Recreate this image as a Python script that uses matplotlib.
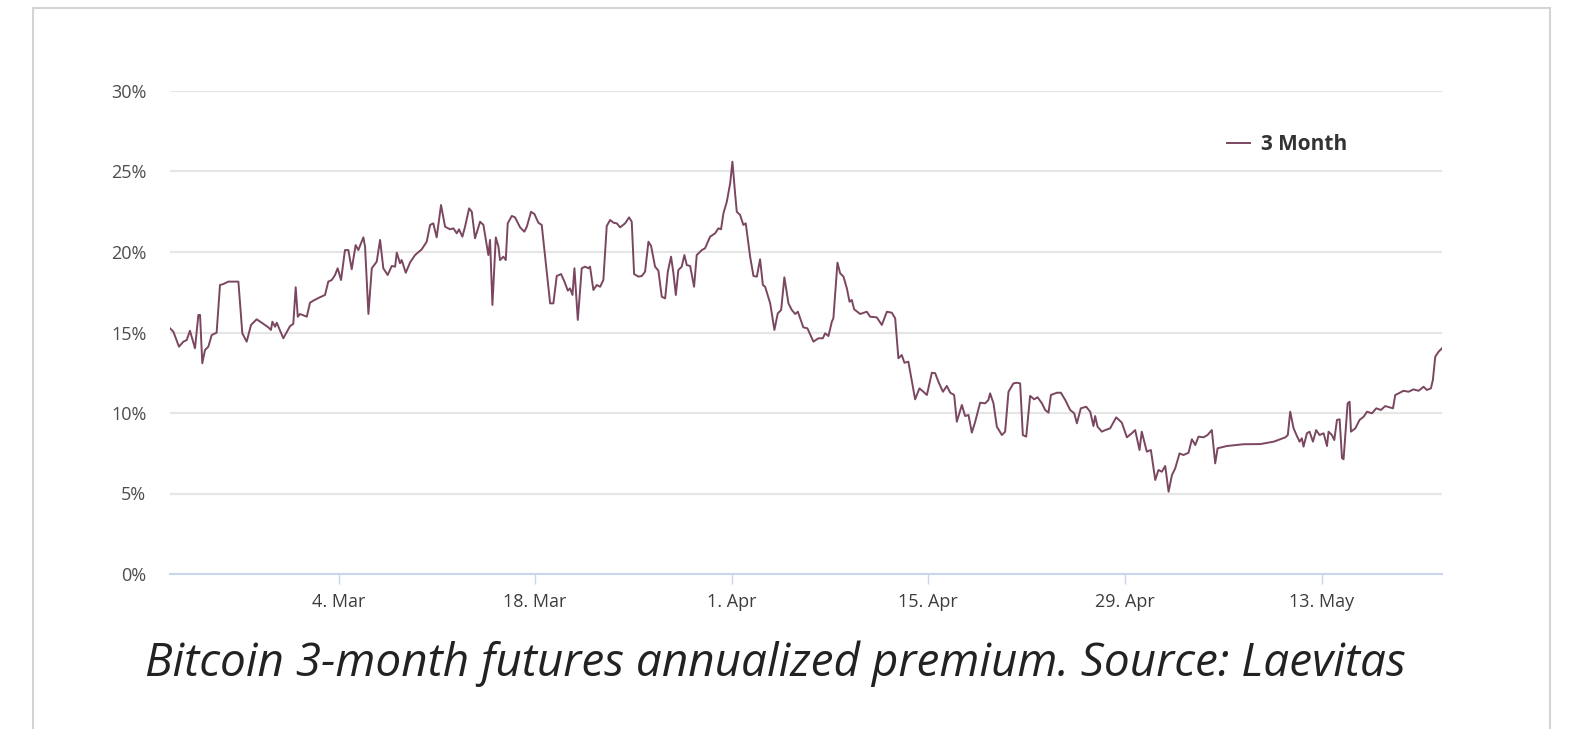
import pandas as pd
import matplotlib
matplotlib.use('Agg')
import matplotlib.pyplot as plt
from matplotlib.patches import Rectangle

plt.rcParams['font.family'] = ['Open Sans', 'DejaVu Sans']

# series: days since start date, 3-month annualized premium in %
start = pd.Timestamp('2021-02-20')
days = [0, 0.24, 0.64, 0.95, 1.19, 1.42, 1.54, 1.78, 2.02, 2.14, 2.30, 2.49, 2.73, 2.97, 3.32,
        3.56, 3.80, 4.15, 4.87, 5.15, 5.46, 5.77, 6.17, 6.53, 7.0, 7.19, 7.29, 7.48, 7.6, 8.07,
        8.55, 8.78, 8.95, 9.1, 9.26, 9.74, 9.97, 10.21, 10.68, 11.04, 11.27, 11.52, 11.75, 11.94,
        12.18, 12.46, 12.7, 12.94, 13.22, 13.41, 13.77, 13.89, 14.13, 14.37, 14.72, 14.96, 15.19,
        15.5, 15.79, 16.03, 16.15, 16.38, 16.5, 16.79, 17.09, 17.45, 17.93, 18.28, 18.52, 18.75,
        18.99, 19.3, 19.59, 19.94, 20.18, 20.42, 20.58, 20.82, 21.01, 21.3, 21.49, 21.72, 22.08,
        22.32, 22.67, 22.79, 22.96, 23.2, 23.39, 23.5, 23.74, 23.91, 24.05, 24.34, 24.57, 24.93,
        25.23, 25.41, 25.71, 25.95, 26.23, 26.47, 27.07, 27.3, 27.54, 27.85, 28.09, 28.33, 28.49,
        28.66, 28.8, 29.04, 29.32, 29.56, 29.79, 29.91, 30.15, 30.39, 30.63, 30.86, 31.1, 31.34,
        31.58, 31.82, 32.05, 32.41, 32.69, 32.88, 33.05, 33.36, 33.6, 33.83, 34.07, 34.26, 34.54,
        34.78, 35.02, 35.26, 35.45, 35.68, 35.85, 36.02, 36.2, 36.44, 36.63, 36.8, 37.04, 37.32,
        37.51, 37.87, 38.1, 38.46, 38.82, 39.05, 39.24, 39.41, 39.65, 39.89, 40.05, 40.24, 40.36,
        40.6, 40.83, 41.0, 41.31, 41.55, 41.79, 42.02, 42.22, 42.38, 42.74, 43.04, 43.28, 43.52,
        43.75, 44.04, 44.28, 44.52, 44.71, 45.1, 45.39, 45.82, 46.17, 46.49, 46.65, 46.89, 47.13,
        47.24, 47.53, 47.72, 47.96, 48.2, 48.39, 48.55, 48.72, 49.15, 49.62, 49.86, 50.33, 50.69,
        51.05, 51.4, 51.64, 51.87, 52.11, 52.3, 52.58, 53.06, 53.37, 53.65, 53.9, 54.25, 54.49,
        54.72, 55.04, 55.32, 55.56, 55.84, 56.03, 56.39, 56.62, 56.86, 57.1, 57.34, 57.69, 58.05,
        58.28, 58.4, 58.64, 58.88, 59.24, 59.47, 59.71, 60.06, 60.3, 60.54, 60.73, 60.97, 61.25,
        61.54, 61.78, 62.09, 62.32, 62.56, 62.73, 63.16, 63.44, 63.75, 64.1, 64.39, 64.58, 64.86,
        65.24, 65.53, 65.76, 65.88, 66.05, 66.36, 66.6, 66.95, 67.38, 67.78, 68.14, 68.49, 68.73,
        69.04, 69.2, 69.56, 69.85, 70.16, 70.39, 70.63, 70.87, 71.11, 71.35, 71.58, 71.89, 72.17,
        72.53, 72.77, 73.01, 73.24, 73.6, 73.88, 74.19, 74.43, 74.6, 75.26, 76.45, 77.64, 78.6,
        79.43, 79.6, 79.77, 80.01, 80.25, 80.44, 80.6, 80.72, 80.96, 81.15, 81.39, 81.62, 81.86,
        82.15, 82.39, 82.5, 82.74, 82.91, 83.1, 83.29, 83.46, 83.57, 83.86, 84.0, 84.1, 84.41,
        84.71, 85.0, 85.24, 85.59, 85.9, 86.23, 86.54, 86.85, 87.09, 87.25, 87.49, 87.84, 88.2,
        88.55, 88.91, 89.27, 89.5, 89.79, 89.93, 90.1, 90.34, 90.58]
premium = [15.26, 15.05, 14.12, 14.43, 14.53, 15.11, 14.74, 14.02, 16.09, 16.09, 13.09, 13.91, 14.12,
           14.84, 14.99, 17.95, 18.01, 18.16, 18.16, 14.95, 14.43, 15.47, 15.82, 15.61, 15.32, 15.16,
           15.67, 15.36, 15.61, 14.64, 15.4, 15.53, 17.81, 15.98, 16.15, 15.98, 16.85, 16.98, 17.19,
           17.33, 18.16, 18.26, 18.57, 18.99, 18.26, 20.12, 20.12, 18.93, 20.43, 20.12, 20.91, 20.33,
           16.15, 18.99, 19.4, 20.75, 18.99, 18.57, 19.13, 19.09, 19.96, 19.3, 19.5, 18.71, 19.34,
           19.81, 20.17, 20.64, 21.68, 21.78, 20.91, 22.92, 21.57, 21.41, 21.47, 21.16, 21.41, 20.95,
           21.57, 22.71, 22.5, 20.85, 21.88, 21.68, 19.81, 20.75, 16.71, 20.91, 20.33, 19.5, 19.71,
           19.5, 21.78, 22.24, 22.15, 21.53, 21.26, 21.57, 22.5, 22.36, 21.82, 21.68, 16.81, 16.81,
           18.51, 18.63, 18.16, 17.6, 17.74, 17.33, 18.99, 15.78, 18.99, 19.09, 18.99, 19.09, 17.64,
           17.95, 17.84, 18.26, 21.61, 21.99, 21.82, 21.78, 21.53, 21.78, 22.15, 21.88, 18.63, 18.47,
           18.51, 18.78, 20.64, 20.37, 19.09, 18.84, 17.22, 17.12, 18.78, 19.71, 18.68, 17.33, 18.88,
           19.09, 19.81, 19.19, 19.13, 17.84, 19.81, 20.12, 20.23, 20.95, 21.16, 21.47, 21.41, 22.4,
           23.12, 24.27, 25.61, 23.65, 22.5, 22.3, 21.68, 21.78, 19.71, 18.51, 18.47, 19.55, 17.95,
           17.84, 16.81, 15.16, 16.19, 16.4, 18.43, 16.81, 16.4, 16.15, 16.29, 15.32, 15.26, 14.43,
           14.64, 14.64, 14.95, 14.78, 15.67, 15.88, 19.34, 18.68, 18.47, 17.74, 16.91, 17.02, 16.44,
           16.15, 16.29, 15.98, 15.94, 15.47, 16.29, 16.23, 15.88, 13.4, 13.6, 13.12, 13.19, 10.85,
           11.53, 11.32, 11.12, 12.5, 12.47, 11.94, 11.32, 11.68, 11.26, 11.12, 9.46, 10.5, 9.81,
           9.88, 8.78, 9.46, 10.64, 10.6, 10.81, 11.22, 10.6, 9.15, 8.63, 8.84, 11.32, 11.84, 11.88,
           11.84, 8.63, 8.53, 11.06, 10.85, 10.98, 10.6, 10.19, 10.02, 11.12, 11.26, 11.26, 10.81,
           10.19, 9.98, 9.36, 10.29, 10.39, 10.08, 9.19, 9.81, 9.15, 8.84, 8.94, 9.05, 9.73, 9.4,
           8.49, 8.74, 8.94, 7.7, 8.84, 7.6, 7.7, 5.84, 6.46, 6.35, 6.71, 5.11, 6.15, 6.56, 7.49,
           7.39, 7.53, 8.37, 8.01, 8.53, 8.49, 8.63, 8.94, 6.87, 7.81, 7.95, 8.06, 8.07, 8.22, 8.49,
           8.63, 10.08, 9.05, 8.57, 8.22, 8.43, 7.91, 8.74, 8.84, 8.22, 8.94, 8.63, 8.74, 7.95, 8.84,
           8.63, 8.32, 9.57, 9.61, 7.19, 7.13, 10.6, 10.7, 8.84, 9.05, 9.57, 9.77, 10.08, 9.98, 10.29,
           10.19, 10.43, 10.35, 10.29, 11.12, 11.22, 11.38, 11.32, 11.47, 11.38, 11.63, 11.43, 11.53,
           12.05, 13.5, 13.81, 14.02]

tick_dates = ['2021-03-04', '2021-03-18', '2021-04-01', '2021-04-15', '2021-04-29', '2021-05-13']
tick_labels = ['4. Mar', '18. Mar', '1. Apr', '15. Apr', '29. Apr', '13. May']
y_ticks = [0, 5, 10, 15, 20, 25, 30]
caption = 'Bitcoin 3-month futures annualized premium. Source: Laevitas'

W, H = 1583, 729
fig = plt.figure(figsize=(W / 100, H / 100), dpi=100)
ax = fig.add_axes([170 / W, 1 - 574 / H, (1442 - 170) / W, (574 - 91) / H])

x = start + pd.to_timedelta(days, unit='D')
ax.plot(x, premium, color='#7a4660', lw=1.4, label='3 Month')
ax.set_xlim(x[0], x[-1])
ax.set_ylim(0, 30)

ax.set_yticks(y_ticks)
ax.set_yticklabels([f'{v}%' for v in y_ticks])
ax.set_xticks(pd.to_datetime(tick_dates))
ax.set_xticklabels(tick_labels)

ax.yaxis.grid(True, color='#e6e6e6', lw=1.6)
ax.set_axisbelow(True)
for s in ['top', 'left', 'right']:
    ax.spines[s].set_visible(False)
ax.spines['bottom'].set_color('#ccd6eb')
ax.spines['bottom'].set_linewidth(1.5)
ax.tick_params(axis='y', length=0, pad=17, labelsize=13, labelcolor='#4d4d4d')
ax.tick_params(axis='x', length=7, width=1, color='#ccd6eb', pad=7, labelsize=13,
               labelcolor='#3d3d3d')

leg = ax.legend(loc='center left', bbox_to_anchor=(1227 / W, 1 - 145 / H),
                bbox_transform=fig.transFigure, frameon=False, borderpad=0,
                borderaxespad=0, handlelength=1.1, handletextpad=0.55,
                prop={'weight': 'bold', 'size': 15})
for t in leg.get_texts():
    t.set_color('#333333')

# light frame around the chart, open at the bottom
fig.patches.append(Rectangle((33 / W, -0.05), (1550 - 33) / W, 1.05 - 8 / H,
                             transform=fig.transFigure, fill=False,
                             edgecolor='#d4d4d4', lw=1.5))

fig.text(775 / W, 1 - 664 / H, caption, ha='center', va='center',
         fontsize=33, style='italic', color='#222222')

fig.savefig('out.png', dpi=100)
